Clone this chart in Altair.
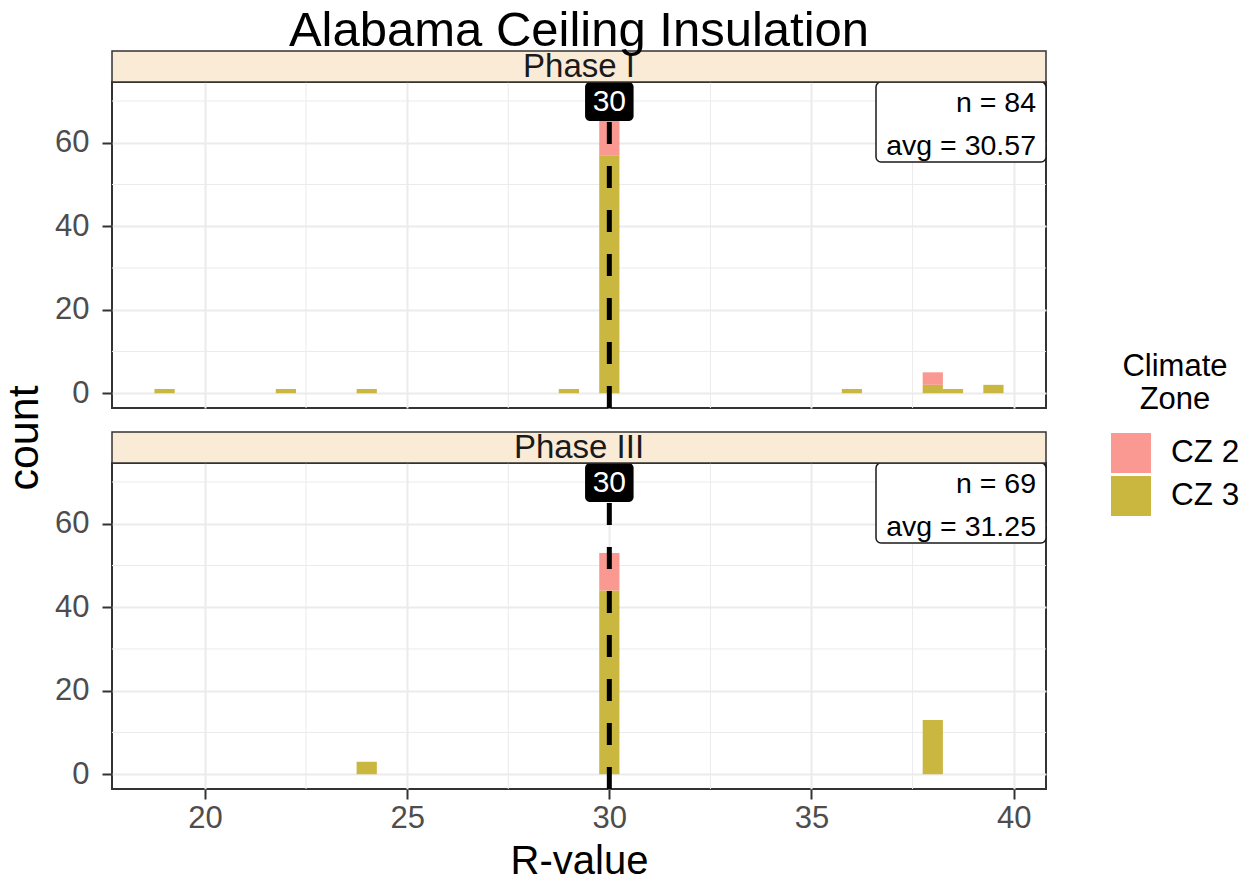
import altair as alt
import pandas as pd

FONT = "Liberation Sans"

phases = ["Phase I", "Phase III"]
zones = ["CZ 2", "CZ 3"]
zone_colors = ["#FA9892", "#C9B740"]

# histogram bins (bin centre R-value, count), bin width 0.5
p1_cz3_r = [19, 22, 24, 29, 30, 36, 38, 38.5, 39.5]
p1_cz3_n = [1, 1, 1, 1, 57, 1, 2, 1, 2]
p1_cz2_r = [30, 38]
p1_cz2_n = [14, 3]
p3_cz3_r = [24, 30, 38]
p3_cz3_n = [3, 44, 13]
p3_cz2_r = [30]
p3_cz2_n = [9]

medians = [30, 30]
n_labels = ["n = 84", "n = 69"]
avg_labels = ["avg = 30.57", "avg = 31.25"]

x_major = [20, 25, 30, 35, 40]
x_minor = [22.5, 27.5, 32.5, 37.5]
y_major = [0, 20, 40, 60]
y_minor = [10, 30, 50, 70]
x_domain = [17.7, 40.8]
y_domain = [-3.55, 74.55]
bin_width = 0.5

W, H = 934, 326


def bars_frame(r3, n3, r2, n2):
    rows = []
    for r, n in zip(r3, n3):
        rows.append({"r": r, "count": n, "zone": zones[1], "ord": 0})
    for r, n in zip(r2, n2):
        rows.append({"r": r, "count": n, "zone": zones[0], "ord": 1})
    return pd.DataFrame(rows)


xscale = alt.Scale(domain=x_domain, nice=False, zero=False)
yscale = alt.Scale(domain=y_domain, nice=False, zero=False)


def make_axes(bottom):
    if bottom:
        xaxis = alt.Axis(values=x_major, grid=True, gridColor="#EBEBEB", gridWidth=2,
                         domain=False, ticks=True, tickColor="#333333", tickWidth=2,
                         tickSize=10, labels=True, labelFontSize=31, labelColor="#4D4D4D",
                         labelFont=FONT, labelPadding=4, title="R-value",
                         titleFontSize=40, titleFont=FONT, titleFontWeight="normal",
                         titleColor="black", titlePadding=8)
    else:
        xaxis = alt.Axis(values=x_major, grid=True, gridColor="#EBEBEB", gridWidth=2,
                         domain=False, ticks=False, labels=False, title=None)
    yaxis = alt.Axis(values=y_major, grid=True, gridColor="#EBEBEB", gridWidth=2,
                     domain=False, ticks=True, tickColor="#333333", tickWidth=2,
                     tickSize=10, labelFontSize=31, labelColor="#4D4D4D", labelFont=FONT,
                     labelPadding=13, title=None)
    return xaxis, yaxis


def panel(idx, df, bottom):
    xaxis, yaxis = make_axes(bottom)

    def X(f):
        return alt.X(f, type="quantitative", scale=xscale, axis=xaxis)

    def Y(f):
        return alt.Y(f, type="quantitative", scale=yscale, axis=yaxis)

    gx = alt.Chart(pd.DataFrame({"g": x_minor})).mark_rule(
        color="#EBEBEB", strokeWidth=1).encode(x=X("g"))
    gy = alt.Chart(pd.DataFrame({"g": y_minor})).mark_rule(
        color="#EBEBEB", strokeWidth=1).encode(y=Y("g"))

    bars = alt.Chart(df).transform_stack(
        stack="count", groupby=["r"], as_=["y0", "y1"],
        sort=[alt.SortField("ord", order="ascending")]
    ).transform_calculate(
        lo=f"datum.r - {bin_width / 2}", hi=f"datum.r + {bin_width / 2}"
    ).mark_rect(opacity=1).encode(
        x=X("lo"),
        x2=alt.X2("hi:Q"),
        y=Y("y0"),
        y2=alt.Y2("y1:Q"),
        color=alt.Color("zone:N", scale=alt.Scale(domain=zones, range=zone_colors),
                        legend=alt.Legend(title=["Climate", "Zone"], orient="none",
                                          legendX=999, legendY=270, padding=0)),
    )

    med_df = pd.DataFrame({"med": [medians[idx]], "lab": [str(medians[idx])]})
    vline = alt.Chart(med_df).mark_rule(color="black", strokeWidth=5,
                                        strokeDash=[22, 22]).encode(
        x=X("med"), y=alt.value(H), y2=alt.value(0))
    lab_box = alt.Chart(med_df).transform_calculate(
        lo="datum.med - 0.6", hi="datum.med + 0.6"
    ).mark_rect(color="black", cornerRadius=5).encode(
        x=X("lo"), x2=alt.X2("hi:Q"), y=alt.value(0), y2=alt.value(39))
    lab_txt = alt.Chart(med_df).mark_text(color="white", fontSize=30, font=FONT,
                                          baseline="middle").encode(
        x=X("med"), y=alt.value(20), text="lab:N")

    ann_df = pd.DataFrame({"n": [n_labels[idx]], "a": [avg_labels[idx]]})
    ann_box = alt.Chart(ann_df).mark_rect(fill="white", stroke="#1A1A1A", strokeWidth=1.5,
                                          cornerRadius=5).encode(
        x=alt.value(W - 170), x2=alt.value(W), y=alt.value(0), y2=alt.value(80))
    ann_n = alt.Chart(ann_df).mark_text(align="right", baseline="middle", fontSize=28.5,
                                        font=FONT, color="black").encode(
        x=alt.value(W - 10), y=alt.value(21), text="n:N")
    ann_a = alt.Chart(ann_df).mark_text(align="right", baseline="middle", fontSize=28.5,
                                        font=FONT, color="black").encode(
        x=alt.value(W - 10), y=alt.value(64), text="a:N")

    strip_df = pd.DataFrame({"p": [phases[idx]]})
    strip = alt.Chart(strip_df).mark_rect(fill="#FAEBD7", stroke="#333333",
                                          strokeWidth=1.5).encode(
        x=alt.value(0), x2=alt.value(W), y=alt.value(-31), y2=alt.value(0))
    strip_txt = alt.Chart(strip_df).mark_text(fontSize=33, font=FONT, color="#1A1A1A",
                                              baseline="middle").encode(
        x=alt.value(W / 2), y=alt.value(-15), text="p:N")

    layers = [gx, gy, bars, vline, lab_box, lab_txt, ann_box, ann_n, ann_a, strip, strip_txt]

    if idx == 0:
        t_df = pd.DataFrame({"t": ["Alabama Ceiling Insulation"]})
        title = alt.Chart(t_df).mark_text(fontSize=49, font=FONT, color="black",
                                          baseline="alphabetic").encode(
            x=alt.value(W / 2), y=alt.value(-36), text="t:N")
        layers += [title]

    return alt.layer(*layers).properties(width=W, height=H)


top = panel(0, bars_frame(p1_cz3_r, p1_cz3_n, p1_cz2_r, p1_cz2_n), False)
bot = panel(1, bars_frame(p3_cz3_r, p3_cz3_n, p3_cz2_r, p3_cz2_n), True)

chart = alt.vconcat(top, bot, spacing=18).properties(
    title=alt.TitleParams("count", orient="left", anchor="middle", fontSize=43,
                          font=FONT, fontWeight="normal", color="black", offset=7,
                          dx=6),
    padding={"left": 3, "top": 6, "right": 5, "bottom": 5},
    background="white",
).configure_view(
    stroke="#333333", strokeWidth=2
).configure_legend(
    symbolType="square", symbolSize=1600, symbolStrokeWidth=0, symbolOpacity=1,
    labelFontSize=31.5, labelFont=FONT, labelColor="black", labelOffset=20,
    titleFontSize=31, titleFont=FONT, titleFontWeight="normal", titleColor="black",
    titleAlign="center", titleAnchor="middle", titlePadding=17, rowPadding=3,
    titleLineHeight=33,
)

chart.save("out.html", embed_options={"renderer": "svg", "actions": False})
